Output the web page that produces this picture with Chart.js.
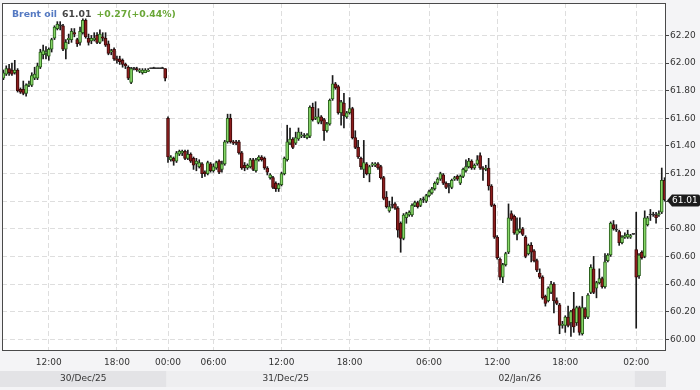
<!DOCTYPE html>
<html><head><meta charset="utf-8">
<script src="https://cdn.jsdelivr.net/npm/chart.js@4/dist/chart.umd.min.js"></script>
<style>html,body{margin:0;padding:0;background:#f3f3f5;}#wrap{width:700px;height:390px;position:relative;}</style>
</head><body><div id="wrap"><canvas id="c" width="700" height="390"></canvas></div>
<script>
const instrument = "Brent oil";
const lastPriceText = "61.01";
const changeText = "+0.27(+0.44%)";

const opens = [
61.89,61.92,61.96,61.95,61.93,61.95,61.81,61.81,61.78,61.84,
61.84,61.89,61.89,61.97,62.06,62.07,62.05,62.10,62.18,62.25,
62.27,62.27,62.10,62.17,62.17,62.22,62.17,62.15,62.22,62.31,
62.18,62.16,62.17,62.20,62.15,62.19,62.18,62.14,62.08,62.10,
62.03,62.03,62.02,61.99,61.97,61.86,61.96,61.96,61.94,61.93,
61.93,61.94,61.96,61.96,61.96,61.96,61.96,61.96,
61.60,61.30,61.31,61.29,61.34,61.35,61.36,61.31,61.34,61.31,
61.27,61.25,61.27,61.21,61.20,61.27,61.22,61.24,61.29,61.23,
61.27,61.43,61.60,61.43,61.43,61.43,61.35,61.26,61.24,61.25,
61.30,61.22,61.30,61.32,61.31,61.24,61.17,61.17,61.13,61.09,
61.12,61.20,61.30,61.42,61.45,61.42,61.45,61.47,61.47,61.46,
61.47,61.68,61.60,61.57,61.61,61.59,61.51,61.56,61.74,61.85,
61.83,61.64,61.71,61.61,61.64,61.67,61.46,61.39,61.31,61.23,
61.27,61.20,61.26,61.26,61.27,61.25,61.17,61.03,60.93,60.97,
60.98,60.95,60.84,60.73,60.88,60.90,60.90,60.97,60.99,60.97,
61.01,61.00,61.04,61.06,61.09,61.13,61.16,61.19,61.13,61.11,
61.10,61.16,61.18,61.13,61.18,61.22,61.25,61.29,61.24,61.27,
61.33,61.24,61.23,61.24,61.11,60.97,60.74,60.58,60.45,60.54,
60.63,60.91,60.89,60.76,60.78,60.80,60.74,60.62,60.68,60.64,
60.57,60.48,60.45,60.31,60.28,60.34,60.40,60.28,60.25,60.10,
60.10,60.16,60.12,60.22,60.12,60.23,60.04,60.22,60.16,60.34,
60.51,60.37,60.41,60.44,60.38,60.57,60.61,60.83,60.79,60.78,
60.70,60.74,60.74,60.74,60.76,60.65,60.46,60.63,60.60,60.83,
60.90,60.90,60.90,60.90,60.92,61.15];

const highs = [
61.95,61.98,61.99,62.00,62.02,61.96,61.82,61.87,61.85,61.87,
61.93,61.97,62.00,62.10,62.13,62.12,62.11,62.18,62.27,62.30,
62.30,62.28,62.17,62.21,62.25,62.25,62.18,62.26,62.32,62.32,
62.21,62.20,62.22,62.22,62.24,62.22,62.22,62.16,62.10,62.11,
62.05,62.05,62.03,62.00,61.98,61.97,61.97,61.97,61.96,61.96,
61.96,61.96,61.96,61.97,61.96,61.96,61.97,61.96,
61.61,61.33,61.32,61.36,61.37,61.37,61.37,61.37,61.35,61.32,
61.31,61.30,61.28,61.22,61.29,61.28,61.27,61.29,61.30,61.29,
61.44,61.63,61.63,61.44,61.44,61.44,61.36,61.28,61.27,61.31,
61.31,61.31,61.33,61.33,61.32,61.25,61.20,61.18,61.14,61.13,
61.21,61.32,61.55,61.53,61.46,61.50,61.53,61.50,61.49,61.49,
61.69,61.71,61.72,61.67,61.62,61.60,61.57,61.74,61.91,61.86,
61.84,61.73,61.78,61.65,61.75,61.68,61.51,61.44,61.32,61.44,
61.28,61.26,61.28,61.28,61.28,61.26,61.18,61.07,61.00,61.03,
60.99,60.96,60.85,60.91,60.92,60.93,60.98,61.00,61.00,61.02,
61.03,61.05,61.08,61.10,61.14,61.17,61.21,61.20,61.14,61.13,
61.16,61.18,61.19,61.19,61.24,61.30,61.31,61.30,61.27,61.33,
61.35,61.25,61.26,61.31,61.12,60.98,60.75,60.59,60.55,60.63,
60.98,60.93,60.90,60.88,60.88,60.81,60.75,60.69,60.70,60.65,
60.58,60.51,60.46,60.32,60.38,60.42,60.41,60.30,60.26,60.13,
60.17,60.24,60.21,60.34,60.24,60.24,60.31,60.23,60.33,60.54,
60.60,60.42,60.51,60.45,60.62,60.62,60.85,60.86,60.83,60.79,
60.75,60.77,60.79,60.76,60.76,60.92,60.62,60.64,60.93,60.89,
60.94,60.92,60.92,60.93,61.24,61.17];

const lows = [
61.88,61.91,61.91,61.91,61.92,61.79,61.78,61.77,61.76,61.83,
61.83,61.88,61.88,61.96,62.03,62.03,62.02,62.08,62.17,62.24,
62.24,62.09,62.03,62.14,62.15,62.19,62.12,62.13,62.21,62.18,
62.13,62.14,62.16,62.14,62.14,62.16,62.12,62.06,62.06,62.02,
62.00,61.99,61.97,61.96,61.88,61.85,61.95,61.94,61.93,61.92,
61.93,61.94,61.96,61.96,61.96,61.96,61.96,61.87,
61.28,61.29,61.26,61.28,61.33,61.33,61.30,61.30,61.28,61.23,
61.22,61.24,61.17,61.18,61.19,61.21,61.21,61.23,61.20,61.21,
61.26,61.42,61.42,61.41,61.41,61.34,61.23,61.22,61.23,61.24,
61.22,61.21,61.29,61.29,61.23,61.19,61.16,61.09,61.07,61.07,
61.11,61.19,61.29,61.41,61.38,61.41,61.44,61.46,61.46,61.45,
61.46,61.58,61.59,61.56,61.56,61.44,61.50,61.55,61.73,61.81,
61.63,61.55,61.53,61.60,61.63,61.45,61.38,61.31,61.23,61.17,
61.19,61.14,61.25,61.25,61.23,61.16,61.01,60.95,60.92,60.95,
60.94,60.74,60.63,60.72,60.84,60.89,60.89,60.96,60.95,60.96,
60.99,60.99,61.03,61.05,61.08,61.12,61.15,61.12,61.09,61.06,
61.09,61.15,61.15,61.12,61.17,61.21,61.24,61.23,61.23,61.26,
61.23,61.15,61.22,61.08,60.96,60.73,60.58,60.43,60.41,60.53,
60.62,60.86,60.76,60.72,60.77,60.75,60.59,60.61,60.56,60.56,
60.49,60.44,60.29,60.24,60.27,60.33,60.19,60.25,60.04,60.08,
60.05,60.09,60.02,60.05,60.10,60.03,60.03,60.15,60.15,60.33,
60.33,60.30,60.40,60.37,60.37,60.56,60.60,60.79,60.78,60.68,
60.69,60.73,60.73,60.73,60.76,60.08,60.44,60.58,60.59,60.82,
60.86,60.89,60.84,60.89,60.91,61.00];

const closes = [
61.93,61.96,61.93,61.92,61.95,61.80,61.79,61.78,61.84,61.85,
61.91,61.92,61.98,62.08,62.09,62.08,62.10,62.17,62.26,62.28,
62.27,62.10,62.15,62.18,62.23,62.21,62.14,62.23,62.31,62.19,
62.15,62.18,62.18,62.15,62.21,62.18,62.13,62.07,62.09,62.03,
62.02,62.01,61.99,61.98,61.89,61.96,61.96,61.95,61.95,61.95,
61.95,61.95,61.96,61.96,61.96,61.96,61.96,61.89,
61.32,61.32,61.29,61.35,61.36,61.36,61.31,61.34,61.29,61.26,
61.29,61.28,61.20,61.20,61.28,61.22,61.25,61.28,61.21,61.27,
61.43,61.60,61.43,61.42,61.42,61.35,61.24,61.24,61.26,61.30,
61.23,61.30,61.32,61.30,61.24,61.21,61.19,61.10,61.09,61.12,
61.20,61.31,61.43,61.45,61.39,61.46,61.50,61.48,61.47,61.48,
61.68,61.59,61.61,61.61,61.58,61.51,61.56,61.73,61.85,61.82,
61.64,61.72,61.62,61.64,61.67,61.46,61.39,61.32,61.25,61.28,
61.20,61.25,61.27,61.27,61.24,61.17,61.02,60.96,60.96,60.97,
60.95,60.79,60.73,60.90,60.91,60.92,60.97,60.99,60.96,61.01,
61.01,61.04,61.07,61.09,61.13,61.16,61.20,61.13,61.10,61.11,
61.15,61.17,61.16,61.18,61.23,61.25,61.29,61.24,61.26,61.30,
61.24,61.23,61.24,61.11,60.97,60.74,60.59,60.45,60.54,60.62,
60.88,60.87,60.77,60.79,60.80,60.76,60.60,60.68,60.63,60.57,
60.50,60.45,60.30,60.26,60.37,60.40,60.28,60.26,60.10,60.11,
60.16,60.10,60.20,60.09,60.23,60.05,60.23,60.16,60.32,60.52,
60.34,60.41,60.44,60.38,60.56,60.61,60.84,60.80,60.79,60.70,
60.74,60.75,60.76,60.75,60.76,60.45,60.61,60.59,60.88,60.88,
60.90,60.90,60.88,60.91,61.15,61.01];

const yTicks = [60.00,60.20,60.40,60.60,60.80,61.00,61.20,61.40,61.60,61.80,62.00,62.20];
const timeTickIndex = [16,40,58,74,98,122,150,174,198,223];
const timeTickText = ["12:00","18:00","00:00","06:00","12:00","18:00","06:00","12:00","18:00","02:00"];
const dayNames = ["30/Dec/25","31/Dec/25","02/Jan/26",""];
const dayStart = [0,58,142,223];

const N = opens.length;
const UP_FILL = '#86d766', UP_LINE = '#2a5f1c', DN_FILL = '#8c1d1d', DN_LINE = '#3d0b0b', FLAT = '#333333';
const bodyFill = opens.map((o,i)=> closes[i] > o ? UP_FILL : closes[i] < o ? DN_FILL : FLAT);
const bodyLine = opens.map((o,i)=> closes[i] > o ? UP_LINE : closes[i] < o ? DN_LINE : FLAT);
const dayShade = ['#e3e3e6','#eeeef0','#eeeef0','#e3e3e6'];
const FONT = '"DejaVu Sans", sans-serif';

const deco = {
  id: 'deco',
  beforeDraw(chart) {
    const {ctx, chartArea: a} = chart;
    ctx.save();
    ctx.fillStyle = '#f4f4f6';
    ctx.fillRect(0, 0, chart.width, chart.height);
    ctx.fillStyle = '#ffffff';
    ctx.fillRect(a.left, a.top, a.right - a.left, a.bottom - a.top);
    ctx.restore();
  },
  afterDraw(chart) {
    const {ctx, chartArea: a, scales: {x, y}} = chart;
    ctx.save();
    ctx.strokeStyle = '#4a4a4a';
    ctx.lineWidth = 1;
    ctx.strokeRect(Math.round(a.left) + 0.5, Math.round(a.top) + 0.5,
                   Math.round(a.right - a.left) - 1, Math.round(a.bottom - a.top) - 1);
    const half = (x.getPixelForValue(1) - x.getPixelForValue(0)) / 2;
    const bandTop = 371, bandH = 16;
    for (let d = 0; d < dayStart.length; d++) {
      const s = dayStart[d];
      const e = d + 1 < dayStart.length ? dayStart[d + 1] - 1 : N - 1;
      const x0 = d === 0 ? 0 : x.getPixelForValue(s) - half;
      const x1 = x.getPixelForValue(e) + half;
      ctx.fillStyle = dayShade[d];
      ctx.fillRect(x0, bandTop, x1 - x0, bandH);
      if (dayNames[d]) {
        ctx.fillStyle = '#333';
        ctx.font = '9px ' + FONT;
        ctx.textAlign = 'center';
        ctx.textBaseline = 'middle';
        ctx.fillText(dayNames[d], (x0 + x1) / 2, bandTop + bandH / 2);
      }
    }
    ctx.textAlign = 'left';
    ctx.textBaseline = 'alphabetic';
    ctx.font = 'bold 9.3px "DejaVu Sans", sans-serif';
    let tx = 12;
    const parts = [[instrument, '#5479c2'], [lastPriceText, '#444444'], [changeText, '#6aa737']];
    parts.forEach(([t, c]) => {
      ctx.fillStyle = c;
      ctx.fillText(t, tx, 17);
      tx += ctx.measureText(t).width + 5;
    });
    const py = Math.round(y.getPixelForValue(closes[N - 1])) + 0.5;
    const lx = a.right + 1;
    ctx.fillStyle = '#1c1c1c';
    ctx.beginPath();
    ctx.moveTo(lx, py);
    ctx.lineTo(lx + 5, py - 6);
    ctx.lineTo(698, py - 6);
    ctx.quadraticCurveTo(700, py - 6, 700, py - 4);
    ctx.lineTo(700, py + 4);
    ctx.quadraticCurveTo(700, py + 6, 698, py + 6);
    ctx.lineTo(lx + 5, py + 6);
    ctx.closePath();
    ctx.fill();
    ctx.fillStyle = '#ffffff';
    ctx.font = '9px ' + FONT;
    ctx.textBaseline = 'middle';
    ctx.fillText(lastPriceText, lx + 5, py + 0.5);
    ctx.restore();
  }
};

new Chart(document.getElementById('c'), {
  type: 'bar',
  data: {
    labels: opens.map((_, i) => i),
    datasets: [
      { label: 'range', data: lows.map((l, i) => [l, highs[i]]), backgroundColor: '#1a1a1a',
        barThickness: 1, grouped: false, order: 2 },
      { label: 'body', data: opens.map((o, i) => [o, closes[i]]), backgroundColor: bodyFill,
        borderColor: bodyLine, borderWidth: 1, borderSkipped: false, barThickness: 3,
        minBarLength: 1, grouped: false, order: 1 }
    ]
  },
  options: {
    responsive: false, animation: false, devicePixelRatio: 1,
    layout: { padding: { left: 2, top: 3, right: 0, bottom: 0 } },
    plugins: { legend: { display: false }, tooltip: { enabled: false }, title: { display: false } },
    scales: {
      x: {
        type: 'category', offset: true,
        afterFit(s) { s.height = 39; s.paddingLeft = 0; s.paddingRight = 0; },
        afterBuildTicks(s) { s.ticks = timeTickIndex.map(v => ({ value: v })); },
        ticks: { autoSkip: false, maxRotation: 0, minRotation: 0, color: '#333', padding: 6,
                 font: { family: FONT, size: 9 }, callback: (v, idx) => timeTickText[idx] },
        grid: { offset: false, color: '#dedede', drawTicks: false, lineWidth: 1 },
        border: { display: false, dash: [5, 3] }
      },
      y: {
        position: 'right', min: 59.915, max: 62.435,
        afterFit(s) { s.width = 34; s.paddingTop = 0; s.paddingBottom = 0; },
        afterBuildTicks(s) { s.ticks = yTicks.map(v => ({ value: v })); },
        ticks: { color: '#333', padding: 1, font: { family: FONT, size: 9 }, callback: v => Number(v).toFixed(2) },
        grid: { color: '#dedede', tickColor: '#444', tickLength: 3, drawTicks: true, lineWidth: 1 },
        border: { display: false, dash: [5, 3] }
      }
    }
  },
  plugins: [deco]
});
</script>
</body></html>
